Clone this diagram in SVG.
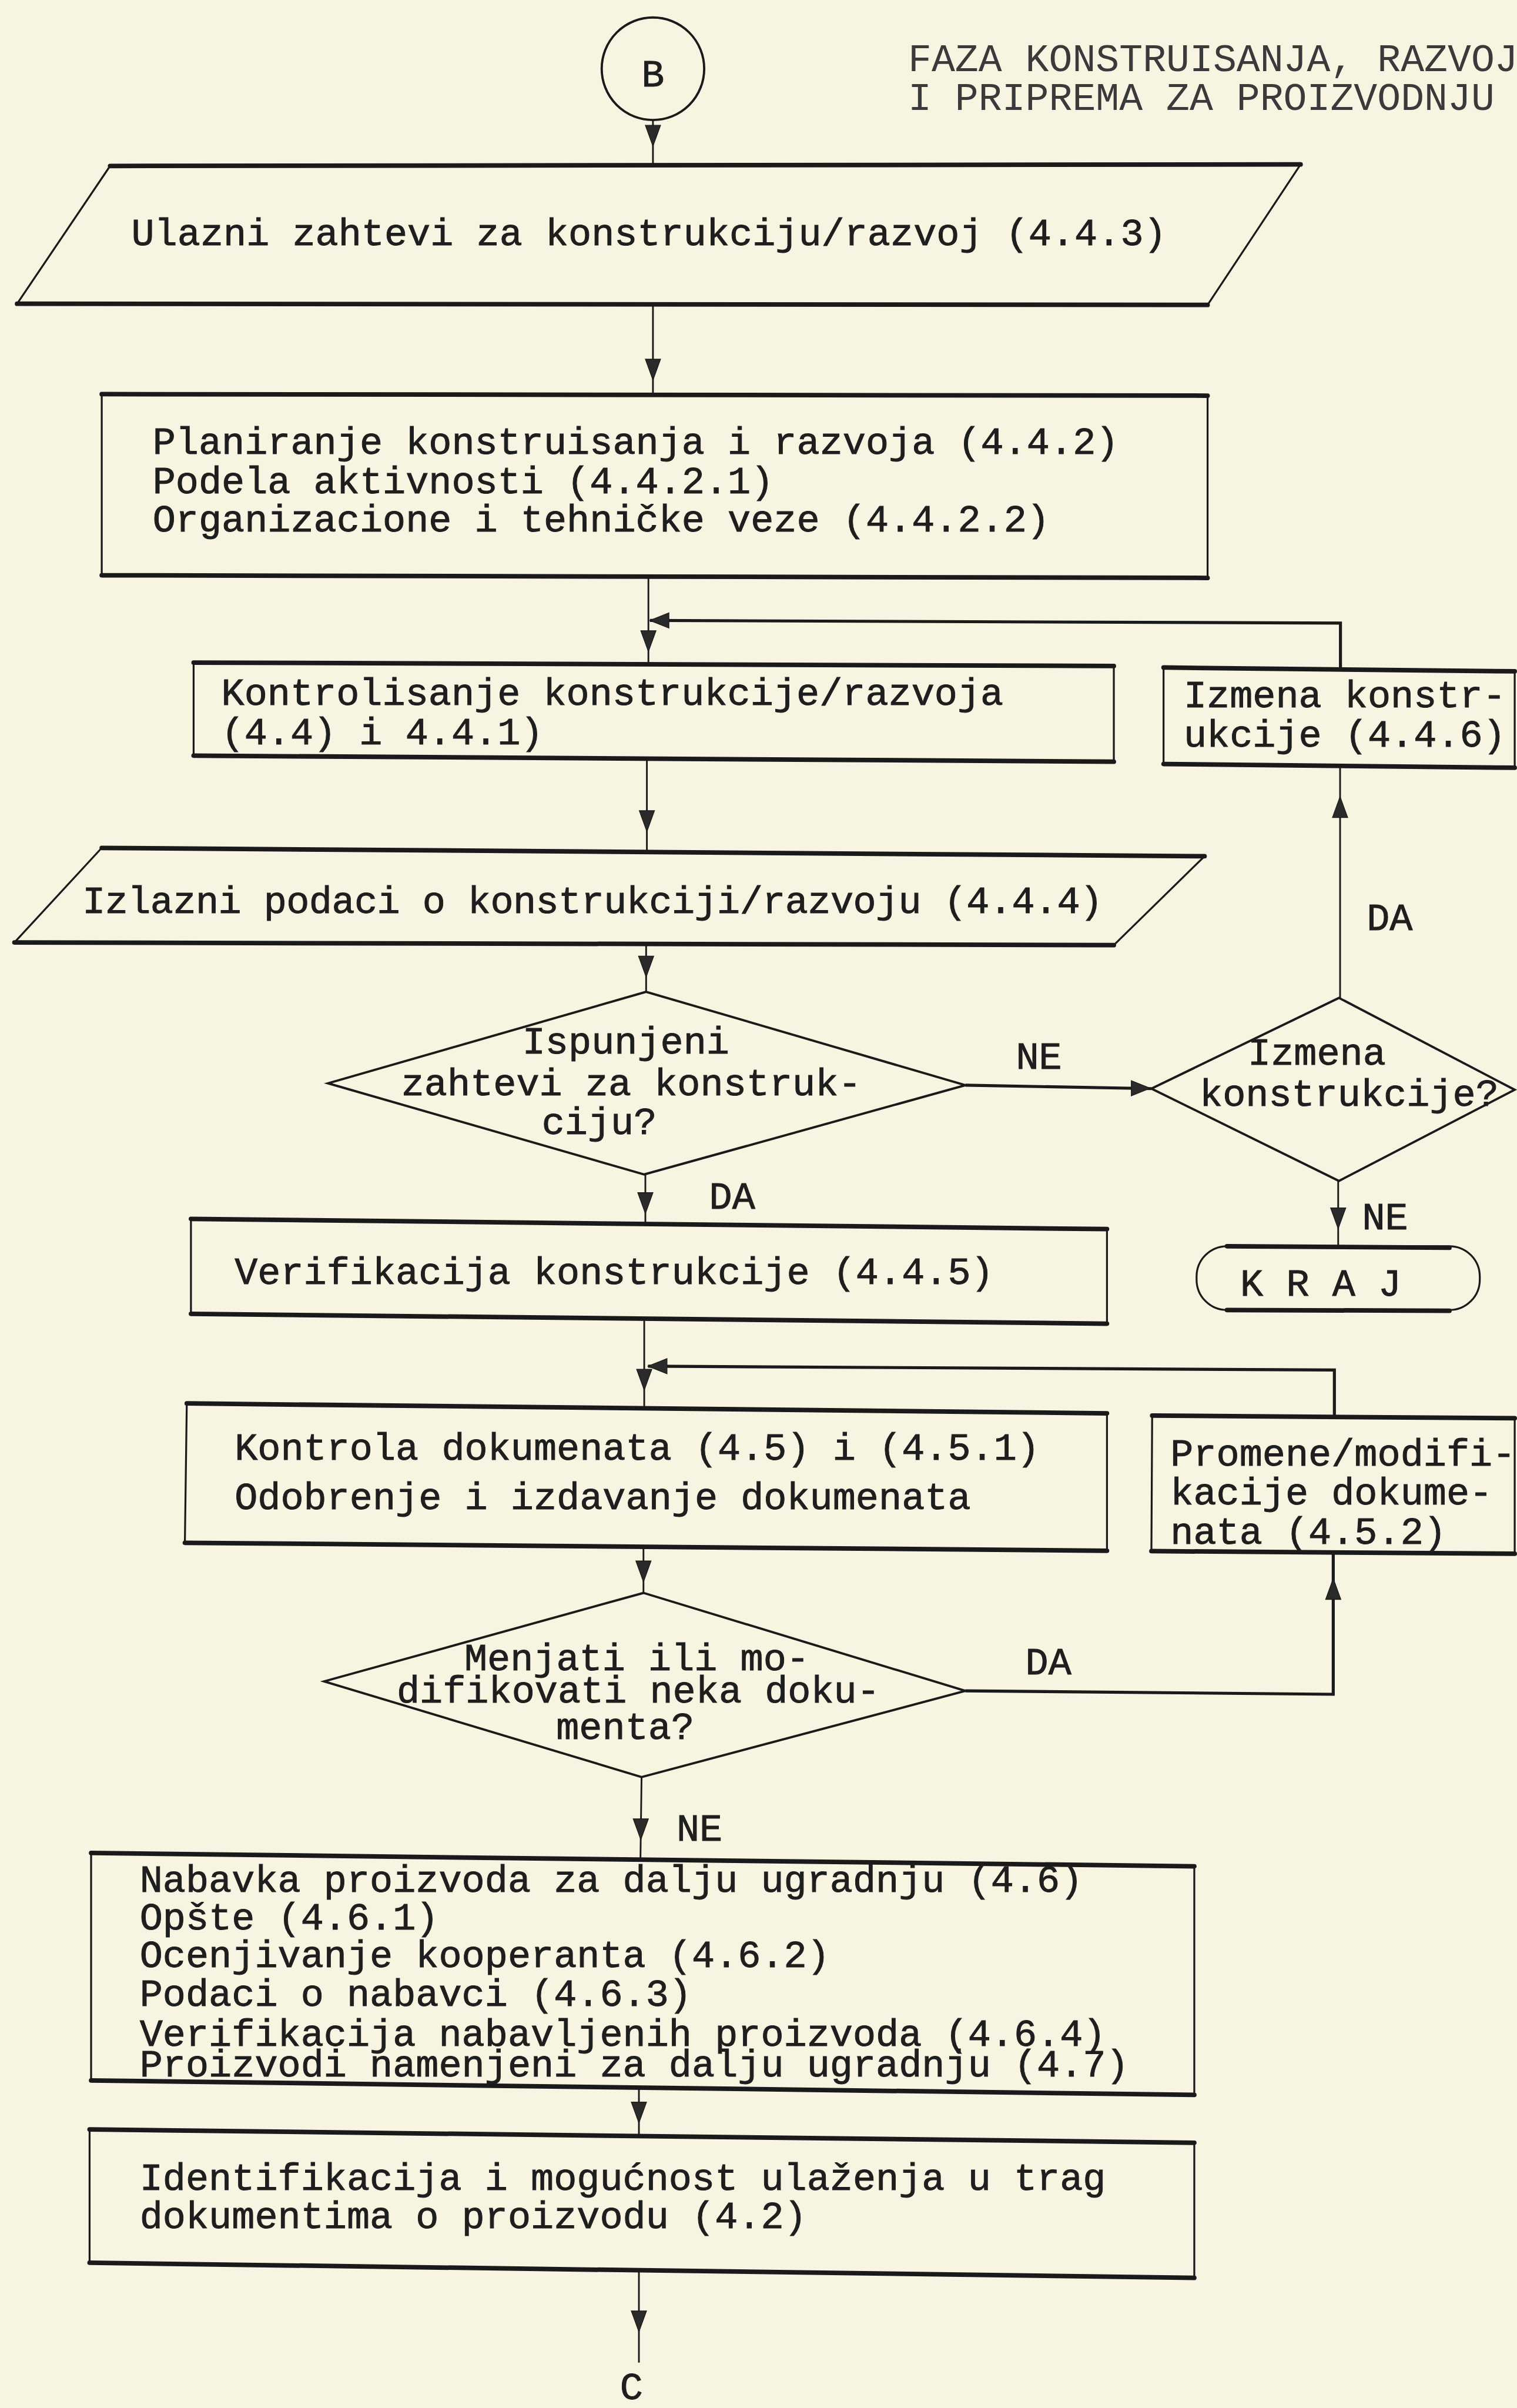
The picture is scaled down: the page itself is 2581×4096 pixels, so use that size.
<svg xmlns="http://www.w3.org/2000/svg" xmlns:xlink="http://www.w3.org/1999/xlink" width="2581" height="4096" viewBox="0 0 2581 4096">
<style>
.t{font-family:"Liberation Mono","DejaVu Sans Mono",monospace;font-size:101px;fill:#1e1e1e;stroke:#1e1e1e;stroke-width:1.5px}
.h{font-family:"Liberation Mono","DejaVu Sans Mono",monospace;font-size:103px;fill:#3a3a3a}
.shape{fill:none;stroke:#1a1a1a;stroke-width:5;stroke-linejoin:round}
.dia{fill:none;stroke:#1a1a1a;stroke-width:6;stroke-linejoin:miter}
.heavy{stroke:#1a1a1a;stroke-width:12;stroke-linecap:round;fill:none}
.ln{stroke:#1a1a1a;stroke-width:4.5;fill:none}
.lnb{stroke:#1a1a1a;stroke-width:8;fill:none}
.ah{fill:#2a2a2a;stroke:#1a1a1a;stroke-width:2}
</style>
<defs>
<path id="ad" d="M0,0 L-20,-55 L20,-55 Z"/>
<path id="au" d="M0,0 L-20,55 L20,55 Z"/>
<path id="al" d="M0,0 L50,-20 L50,20 Z"/>
<path id="ar" d="M0,0 L-50,-20 L-50,20 Z"/>
</defs>
<rect x="0" y="0" width="2581" height="4096" fill="#f7f4e2"/>
<g transform="scale(0.64589)">

<g id="header">
<text class="h" x="2392" y="187">FAZA KONSTRUISANJA, RAZVOJA</text>
<text class="h" x="2392" y="290">I PRIPREMA ZA PROIZVODNJU</text>
</g>

<g id="connectors">
<line class="ln" x1="1720" y1="316" x2="1720" y2="435"/>
<use href="#ad" class="ah" x="1720" y="385"/>
<line class="ln" x1="1720" y1="802" x2="1720" y2="1040"/>
<use href="#ad" class="ah" x="1720" y="1001"/>
<line class="ln" x1="1708" y1="1518" x2="1708" y2="1750"/>
<use href="#ad" class="ah" x="1708" y="1716"/>
<line class="ln" x1="1704" y1="2000" x2="1704" y2="2245"/>
<use href="#ad" class="ah" x="1704" y="2190"/>
<line class="ln" x1="1702" y1="2487" x2="1702" y2="2612"/>
<use href="#ad" class="ah" x="1702" y="2573"/>
<line class="lnb" x1="2543" y1="2858" x2="3033" y2="2867"/>
<use href="#ar" class="ah" x="3030" y="2866"/>
<line class="ln" x1="3530" y1="2628" x2="3530" y2="2018"/>
<use href="#au" class="ah" x="3530" y="2098"/>
<polyline class="lnb" points="3531,1760 3531,1641 1712,1634"/>
<use href="#al" class="ah" x="1712" y="1634"/>
<line class="ln" x1="3525" y1="3110" x2="3525" y2="3286"/>
<use href="#ad" class="ah" x="3525" y="3236"/>
<line class="ln" x1="1700" y1="3093" x2="1700" y2="3222"/>
<use href="#ad" class="ah" x="1700" y="3196"/>
<line class="ln" x1="1697" y1="3478" x2="1697" y2="3708"/>
<use href="#ad" class="ah" x="1697" y="3661"/>
<polyline class="lnb" points="3515,3728 3515,3608 1707,3598"/>
<use href="#al" class="ah" x="1707" y="3598"/>
<line class="ln" x1="1695" y1="4075" x2="1695" y2="4195"/>
<use href="#ad" class="ah" x="1695" y="4166"/>
<polyline class="lnb" points="2543,4453 3512,4462 3512,4090"/>
<use href="#au" class="ah" x="3512" y="4157"/>
<line class="ln" x1="1690" y1="4680" x2="1687" y2="4900"/>
<use href="#ad" class="ah" x="1688" y="4845"/>
<line class="ln" x1="1683" y1="5500" x2="1683" y2="5625"/>
<use href="#ad" class="ah" x="1683" y="5591"/>
<line class="ln" x1="1683" y1="5980" x2="1683" y2="6222"/>
<use href="#ad" class="ah" x="1683" y="6141"/>
</g>

<g id="labels">
<text class="t" x="3600" y="2449">DA</text>
<text class="t" x="2676" y="2815">NE</text>
<text class="t" x="3588" y="3237">NE</text>
<text class="t" x="1868" y="3183">DA</text>
<text class="t" x="2701" y="4409">DA</text>
<text class="t" x="1782" y="4848">NE</text>
</g>

<g id="n-start">
<circle cx="1720" cy="181" r="135" fill="none" stroke="#1a1a1a" stroke-width="6"/>
<text class="t" x="1720" y="228" text-anchor="middle" style="font-size:100px">B</text>
</g>

<g id="n-ulazni">
<polygon class="shape" points="290,437 3426,433 3181,803 45,800"/>
<line class="heavy" x1="290" y1="437" x2="3426" y2="433"/>
<line class="heavy" x1="45" y1="800" x2="3181" y2="803"/>
<text class="t" x="346" y="646">Ulazni zahtevi za konstrukciju/razvoj (4.4.3)</text>
</g>

<g id="n-planiranje">
<polygon class="shape" points="268,1038 3181,1042 3181,1522 268,1515"/>
<line class="heavy" x1="268" y1="1038" x2="3181" y2="1042"/>
<line class="heavy" x1="268" y1="1515" x2="3181" y2="1522"/>
<text class="t" x="402" y="1196">Planiranje konstruisanja i razvoja (4.4.2)</text>
<text class="t" x="402" y="1299">Podela aktivnosti (4.4.2.1)</text>
<text class="t" x="402" y="1400">Organizacione i tehničke veze (4.4.2.2)</text>
</g>

<g id="n-kontrolisanje">
<polygon class="shape" points="510,1745 2934,1754 2934,2006 510,1990"/>
<line class="heavy" x1="510" y1="1745" x2="2934" y2="1754"/>
<line class="heavy" x1="510" y1="1990" x2="2934" y2="2006"/>
<text class="t" x="583" y="1856">Kontrolisanje konstrukcije/razvoja</text>
<text class="t" x="583" y="1960">(4.4) i 4.4.1)</text>
</g>

<g id="n-izmena">
<polygon class="shape" points="3065,1758 3990,1768 3990,2022 3065,2012"/>
<line class="heavy" x1="3065" y1="1758" x2="3990" y2="1768"/>
<line class="heavy" x1="3065" y1="2012" x2="3990" y2="2022"/>
<text class="t" x="3118" y="1862">Izmena konstr-</text>
<text class="t" x="3118" y="1967">ukcije (4.4.6)</text>
</g>

<g id="n-izlazni">
<polygon class="shape" points="268,2233 3173,2255 2934,2489 38,2482"/>
<line class="heavy" x1="268" y1="2233" x2="3173" y2="2255"/>
<line class="heavy" x1="38" y1="2482" x2="2934" y2="2489"/>
<text class="t" x="217" y="2405" textLength="2688" lengthAdjust="spacing">Izlazni podaci o konstrukciji/razvoju (4.4.4)</text>
</g>

<g id="n-ispunjeni">
<polygon class="dia" points="1702,2612 2543,2858 1697,3093 864,2853"/>
<text class="t" x="1376" y="2775">Ispunjeni</text>
<text class="t" x="1057" y="2884">zahtevi za konstruk-</text>
<text class="t" x="1427" y="2986">ciju?</text>
</g>

<g id="n-izmena-q">
<polygon class="dia" points="3527,2628 3990,2870 3527,3110 3033,2867"/>
<text class="t" x="3287" y="2804">Izmena</text>
<text class="t" x="3160" y="2912">konstrukcije?</text>
</g>

<g id="n-kraj">
<rect class="shape" x="3152" y="3282" width="746" height="168" rx="80" ry="80"/>
<line class="heavy" x1="3232" y1="3282" x2="3818" y2="3286"/>
<line class="heavy" x1="3232" y1="3450" x2="3818" y2="3452"/>
<text class="t" x="3267" y="3412">K R A J</text>
</g>

<g id="n-verifikacija">
<polygon class="shape" points="503,3210 2916,3237 2916,3486 503,3460"/>
<line class="heavy" x1="503" y1="3210" x2="2916" y2="3237"/>
<line class="heavy" x1="503" y1="3460" x2="2916" y2="3486"/>
<text class="t" x="618" y="3381">Verifikacija konstrukcije (4.4.5)</text>
</g>

<g id="n-kontrola">
<polygon class="shape" points="492,3696 2916,3722 2916,4084 487,4063"/>
<line class="heavy" x1="492" y1="3696" x2="2916" y2="3722"/>
<line class="heavy" x1="487" y1="4063" x2="2916" y2="4084"/>
<text class="t" x="618" y="3845">Kontrola dokumenata (4.5) i (4.5.1)</text>
<text class="t" x="618" y="3975">Odobrenje i izdavanje dokumenata</text>
</g>

<g id="n-promene">
<polygon class="shape" points="3035,3728 3990,3735 3990,4092 3033,4085"/>
<line class="heavy" x1="3035" y1="3728" x2="3990" y2="3735"/>
<line class="heavy" x1="3033" y1="4085" x2="3990" y2="4092"/>
<text class="t" x="3083" y="3860">Promene/modifi-</text>
<text class="t" x="3083" y="3962">kacije dokume-</text>
<text class="t" x="3083" y="4065">nata (4.5.2)</text>
</g>

<g id="n-menjati">
<polygon class="dia" points="1695,4195 2543,4453 1690,4680 854,4428"/>
<text class="t" x="1223" y="4398">Menjati ili mo-</text>
<text class="t" x="1045" y="4484">difikovati neka doku-</text>
<text class="t" x="1465" y="4580">menta?</text>
</g>

<g id="n-nabavka">
<polygon class="shape" points="240,4880 3146,4915 3146,5517 240,5479"/>
<line class="heavy" x1="240" y1="4880" x2="3146" y2="4915"/>
<line class="heavy" x1="240" y1="5479" x2="3146" y2="5517"/>
<text class="t" x="368" y="4983">Nabavka proizvoda za dalju ugradnju (4.6)</text>
<text class="t" x="368" y="5081">Opšte (4.6.1)</text>
<text class="t" x="368" y="5181">Ocenjivanje kooperanta (4.6.2)</text>
<text class="t" x="368" y="5282">Podaci o nabavci (4.6.3)</text>
<text class="t" x="368" y="5388">Verifikacija nabavljenih proizvoda (4.6.4)</text>
<text class="t" x="368" y="5468">Proizvodi namenjeni za dalju ugradnju (4.7)</text>
</g>

<g id="n-identifikacija">
<polygon class="shape" points="236,5608 3146,5643 3146,5999 236,5959"/>
<line class="heavy" x1="236" y1="5608" x2="3146" y2="5643"/>
<line class="heavy" x1="236" y1="5959" x2="3146" y2="5999"/>
<text class="t" x="368" y="5767">Identifikacija i mogućnost ulaženja u trag</text>
<text class="t" x="368" y="5868">dokumentima o proizvodu (4.2)</text>
</g>

<g id="n-end">
<text class="t" x="1633" y="6318">C</text>
</g>

</g>
</svg>
